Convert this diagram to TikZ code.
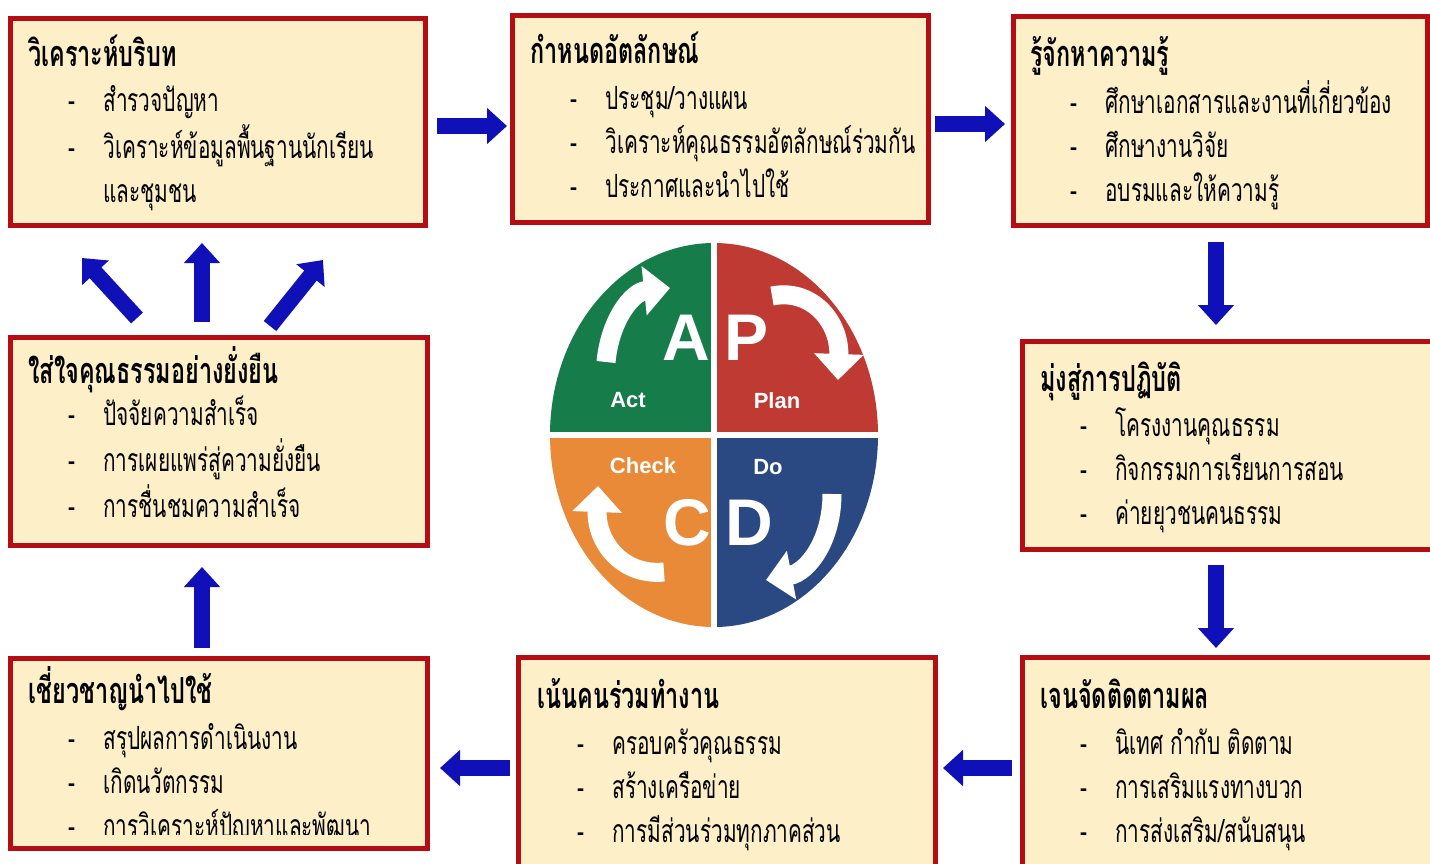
\documentclass[tikz,border=0pt]{standalone}
\usepackage{fontspec}
\setmainfont{Liberation Sans}
\newfontfamily\thaifont[Script=Thai,FakeStretch=0.65]{Loma}
\usetikzlibrary{arrows.meta}

\definecolor{stagefill}{RGB}{253,239,200}
\definecolor{stageline}{RGB}{180,14,20}
\definecolor{flowblue}{RGB}{16,16,184}
\definecolor{actgreen}{RGB}{22,124,74}
\definecolor{planred}{RGB}{190,58,50}
\definecolor{checkorange}{RGB}{233,138,56}
\definecolor{donavy}{RGB}{42,72,130}

\newcommand{\headfont}{\bfseries\fontsize{18}{22}\selectfont}
\newcommand{\stagehead}[1]{\multicolumn{2}{@{}l@{}}{\headfont #1}}

\tikzset{
  stage/.style={draw=stageline, line width=2.5pt, fill=stagefill, outer sep=0pt},
  stagetext/.style={anchor=base west, inner sep=0pt, font=\thaifont\fontsize{16}{22}\selectfont},
  flow/.style={draw=flowblue, line width=8pt, -{Triangle[length=10pt,width=17.5pt]}},
  turn/.style={draw=white, line width=9.5pt, -{Triangle[length=13pt,width=24pt]}},
  pdcabig/.style={text=white, font=\bfseries\fontsize{33}{33}\selectfont, inner sep=0pt},
  pdcasmall/.style={text=white, font=\bfseries\fontsize{11}{11}\selectfont, inner sep=0pt},
}

\begin{document}
\begin{tikzpicture}[x=0.5pt,y=-0.5pt]
  \useasboundingbox (0,0) rectangle (1430,863);
  \clip (0,0) rectangle (1430,863);
  \fill[white] (0,0) rectangle (1430,863);

  % the eight stages
  \node[stage, minimum width=207.5pt, minimum height=103.5pt] (b1) at (217.5,121.5) {};
  \node[stage, minimum width=208pt, minimum height=103.5pt] (b2) at (720,118.5) {};
  \node[stage, minimum width=207pt, minimum height=104.5pt] (b3) at (1220,120.5) {};
  \node[stage, minimum width=208.5pt, minimum height=104pt] (b4) at (218.5,441) {};
  \node[stage, minimum width=210pt, minimum height=104pt] (b5) at (1232,445) {};
  \node[stage, minimum width=208.5pt, minimum height=95pt] (b6) at (218.5,753) {};
  \node[stage, minimum width=208.5pt, minimum height=109pt] (b7) at (726.5,766) {};
  \node[stage, minimum width=210pt, minimum height=109pt] (b8) at (1232,766) {};

  \node[stagetext] (t1) at (28,66) {\begin{tabular}[t]{@{\hspace{20pt}}p{17.5pt}@{}l@{}}
    \stagehead{วิเคราะห์บริบท}\\[0.5pt]
    - & สำรวจปัญหา\\
    - & วิเคราะห์ข้อมูลพื้นฐานนักเรียน\\
      & และชุมชน
  \end{tabular}};
  \node[stagetext] (t2) at (530,63) {\begin{tabular}[t]{@{\hspace{20pt}}p{17.5pt}@{}l@{}}
    \stagehead{กำหนดอัตลักษณ์}\\[1pt]
    - & ประชุม/วางแผน\\
    - & วิเคราะห์คุณธรรมอัตลักษณ์ร่วมกัน\\
    - & ประกาศและนำไปใช้
  \end{tabular}};
  \node[stagetext] (t3) at (1030,66) {\begin{tabular}[t]{@{\hspace{20pt}}p{17.5pt}@{}l@{}}
    \stagehead{รู้จักหาความรู้}\\[0.5pt]
    - & ศึกษาเอกสารและงานที่เกี่ยวข้อง\\
    - & ศึกษางานวิจัย\\
    - & อบรมและให้ความรู้
  \end{tabular}};
  \node[stagetext] (t4) at (28,383) {\begin{tabular}[t]{@{\hspace{20pt}}p{17.5pt}@{}l@{}}
    \stagehead{ใส่ใจคุณธรรมอย่างยั่งยืน}\\[-1pt]
    - & ปัจจัยความสำเร็จ\\
    - & การเผยแพร่สู่ความยั่งยืน\\
    - & การชื่นชมความสำเร็จ
  \end{tabular}};
  \node[stagetext] (t5) at (1040,391) {\begin{tabular}[t]{@{\hspace{20pt}}p{17.5pt}@{}l@{}}
    \stagehead{มุ่งสู่การปฏิบัติ}\\[0.5pt]
    - & โครงงานคุณธรรม\\
    - & กิจกรรมการเรียนการสอน\\
    - & ค่ายยุวชนคนธรรม
  \end{tabular}};
  \begin{scope}
    \clip (10,658) rectangle (427,834);
    \node[stagetext] (t6) at (28,703) {\begin{tabular}[t]{@{\hspace{20pt}}p{17.5pt}@{}l@{}}
      \stagehead{เชี่ยวชาญนำไปใช้}\\[1pt]
      - & สรุปผลการดำเนินงาน\\
      - & เกิดนวัตกรรม\\
      - & การวิเคราะห์ปัญหาและพัฒนา
    \end{tabular}};
  \end{scope}
  \node[stagetext] (t7) at (537,708) {\begin{tabular}[t]{@{\hspace{20pt}}p{17.5pt}@{}l@{}}
    \stagehead{เน้นคนร่วมทำงาน}\\[1pt]
    - & ครอบครัวคุณธรรม\\
    - & สร้างเครือข่าย\\
    - & การมีส่วนร่วมทุกภาคส่วน
  \end{tabular}};
  \node[stagetext] (t8) at (1040,708) {\begin{tabular}[t]{@{\hspace{20pt}}p{17.5pt}@{}l@{}}
    \stagehead{เจนจัดติดตามผล}\\[1pt]
    - & นิเทศ กำกับ ติดตาม\\
    - & การเสริมแรงทางบวก\\
    - & การส่งเสริม/สนับสนุน
  \end{tabular}};

  % flow between the stages
  \draw[flow] ([shift={(12,4.5)}]b1.east) -- ([shift={(-5,7.5)}]b2.west);
  \draw[flow] ([shift={(7,5.5)}]b2.east) -- ([shift={(-8,3.5)}]b3.west);
  \draw[flow] ([shift={(-4,17)}]b3.south) -- ([shift={(-16,-16)}]b5.north);
  \draw[flow] ([shift={(-16,16)}]b5.south) -- ([shift={(-16,-9)}]b8.north);
  \draw[flow] ([shift={(-10,2)}]b8.west) -- ([shift={(8,2)}]b7.east);
  \draw[flow] ([shift={(-8,2)}]b7.west) -- ([shift={(13,15)}]b6.east);
  \draw[flow] ([shift={(-16.5,-10)}]b6.north) -- ([shift={(-16.5,22)}]b4.south);
  \draw[flow] ([shift={(-16.5,-15)}]b4.north) -- ([shift={(-15.5,18)}]b1.south);
  \draw[flow] ([shift={(-81.5,-19)}]b4.north) -- ([shift={(-135.5,33)}]b1.south);
  \draw[flow] ([shift={(51.5,-11)}]b4.north) -- ([shift={(105.5,35)}]b1.south);

  % PDCA wheel
  \begin{scope}[shift={(714,435)}]
    \fill[actgreen] (0,0) -- (-164,0) arc[start angle=180, end angle=270, x radius=164, y radius=192] -- cycle;
    \fill[planred] (0,0) -- (0,-192) arc[start angle=270, end angle=360, x radius=164, y radius=192] -- cycle;
    \fill[donavy] (0,0) -- (164,0) arc[start angle=0, end angle=90, x radius=164, y radius=192] -- cycle;
    \fill[checkorange] (0,0) -- (0,192) arc[start angle=90, end angle=180, x radius=164, y radius=192] -- cycle;
    \draw[white, line width=3pt] (0,-200) -- (0,200);
    \draw[white, line width=3pt] (-170,0) -- (170,0);
  \end{scope}
  \draw[turn] (606,362) .. controls (610,320) and (632,292) .. (670,288);
  \draw[turn] (772,296) .. controls (812,288) and (840,322) .. (838,380);
  \draw[turn] (832,494) .. controls (832,540) and (808,572) .. (766,580);
  \draw[turn] (664,572) .. controls (622,576) and (596,542) .. (598,486);
  \node[pdcabig] (la) at (686,338) {A};
  \node[pdcabig] (lp) at (747,338) {P};
  \node[pdcabig] (lc) at (687,523) {C};
  \node[pdcabig] (ld) at (749,523) {D};
  \node[pdcasmall] (act) at (628,400) {Act};
  \node[pdcasmall] (plan) at (777,401) {Plan};
  \node[pdcasmall] (check) at (643,466) {Check};
  \node[pdcasmall] (do) at (768,467) {Do};
\end{tikzpicture}
\end{document}
